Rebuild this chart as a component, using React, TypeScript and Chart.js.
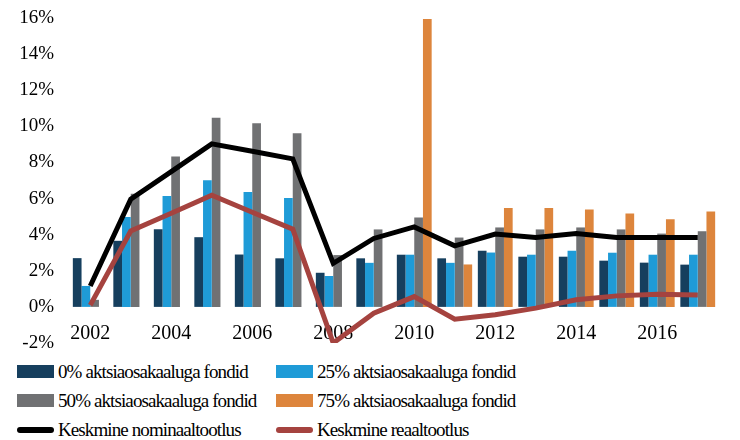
import React, { useEffect, useRef } from "react";
import { Chart, registerables } from "chart.js";

Chart.register(...registerables);

const years = ["2002","2003","2004","2005","2006","2007","2008","2009","2010","2011","2012","2013","2014","2015","2016","2017"];
const fund0 = [2.7, 3.66, 4.3, 3.86, 2.9, 2.69, 1.89, 2.69, 2.89, 2.69, 3.11, 2.78, 2.78, 2.56, 2.45, 2.34];
const fund25 = [1.16, 4.98, 6.14, 7.02, 6.36, 6.03, 1.71, 2.44, 2.89, 2.44, 3.01, 2.89, 3.11, 3.0, 2.89, 2.89];
const fund50 = [0.39, 6.27, 8.33, 10.48, 10.17, 9.62, 2.87, 4.29, 4.95, 3.84, 4.4, 4.29, 4.4, 4.29, 4.06, 4.19];
const fund75 = [null, null, null, null, null, null, null, null, 15.94, 2.35, 5.48, 5.48, 5.39, 5.17, 4.86, 5.28];
const nominal = [1.16, 5.96, 7.49, 9.03, 8.62, 8.2, 2.41, 3.79, 4.43, 3.38, 4.03, 3.84, 4.06, 3.84, 3.84, 3.84];
const real = [0.1, 4.2, 5.19, 6.18, 5.24, 4.3, -2.0, -0.35, 0.57, -0.68, -0.44, -0.07, 0.39, 0.61, 0.7, 0.66];

const labels = {
  f0: "0% aktsiaosakaaluga fondid",
  f25: "25% aktsiaosakaaluga fondid",
  f50: "50% aktsiaosakaaluga fondid",
  f75: "75% aktsiaosakaaluga fondid",
  nom: "Keskmine nominaaltootlus",
  real: "Keskmine reaaltootlus",
};

const colors = {
  f0: "#163F5E",
  f25: "#1F9BD7",
  f50: "#707173",
  f75: "#DD853C",
  nom: "#000000",
  real: "#A5433F",
};

const FONT = "'Liberation Serif', serif";

const legendItems = [
  { text: labels.f0, color: colors.f0, kind: "box" },
  { text: labels.f25, color: colors.f25, kind: "box" },
  { text: labels.f50, color: colors.f50, kind: "box" },
  { text: labels.f75, color: colors.f75, kind: "box" },
  { text: labels.nom, color: colors.nom, kind: "line" },
  { text: labels.real, color: colors.real, kind: "line" },
];

export default function App() {
  const ref = useRef<HTMLCanvasElement>(null);
  useEffect(() => {
    if (!ref.current) return;
    const barCommon = { categoryPercentage: 0.86, barPercentage: 1.0, borderWidth: 0, order: 2 };
    const chart = new Chart(ref.current, {
      type: "bar",
      data: {
        labels: years,
        datasets: [
          { type: "line", label: labels.nom, data: nominal, borderColor: colors.nom, backgroundColor: colors.nom, borderWidth: 5, pointRadius: 0, tension: 0, order: 0 } as any,
          { type: "line", label: labels.real, data: real, borderColor: colors.real, backgroundColor: colors.real, borderWidth: 5, pointRadius: 0, tension: 0, order: 1 } as any,
          { label: labels.f0, data: fund0, backgroundColor: colors.f0, ...barCommon },
          { label: labels.f25, data: fund25, backgroundColor: colors.f25, ...barCommon },
          { label: labels.f50, data: fund50, backgroundColor: colors.f50, ...barCommon },
          { label: labels.f75, data: fund75, backgroundColor: colors.f75, ...barCommon },
        ],
      },
      options: {
        animation: false,
        responsive: false,
        devicePixelRatio: 1,
        layout: { padding: { top: 18, right: 22, bottom: 13, left: 0 } },
        plugins: { legend: { display: false }, tooltip: { enabled: false } },
        scales: {
          x: {
            position: { y: 0 } as any,
            grid: { display: false, drawTicks: false },
            border: { display: false },
            ticks: {
              autoSkip: false,
              maxRotation: 0,
              padding: 15,
              color: "#000",
              font: { family: FONT, size: 20 },
              callback: (_v: any, i: number) => (i % 2 === 0 ? years[i] : ""),
            },
            afterFit: (s: any) => { s.height = 0; s.paddingLeft = 0; s.paddingRight = 0; s.paddingTop = 0; s.paddingBottom = 0; },
          },
          y: {
            min: -2,
            max: 16,
            grid: { display: false, drawTicks: false },
            border: { display: false },
            ticks: {
              stepSize: 2,
              padding: 16,
              color: "#000",
              font: { family: FONT, size: 19 },
              callback: (v: any) => v + "%",
            },
            afterFit: (s: any) => { s.width = 70; s.paddingTop = 0; s.paddingBottom = 0; s.paddingLeft = 0; s.paddingRight = 0; },
          },
        },
      },
    });
    return () => chart.destroy();
  }, []);

  const rowY = [371.5, 400.5, 430];
  return (
    <div style={{ position: "absolute", left: 0, top: 0, width: 740, height: 440, background: "#fff", fontFamily: FONT }}>
      <canvas ref={ref} width={740} height={356} style={{ position: "absolute", left: 0, top: 0, width: 740, height: 356 }} />
      {legendItems.map((it, i) => {
        const col = i % 2;
        const row = Math.floor(i / 2);
        const bx = col === 0 ? 17 : 276;
        const tx = col === 0 ? 58 : 317;
        const cy = rowY[row];
        return (
          <React.Fragment key={i}>
            {it.kind === "box" ? (
              <div style={{ position: "absolute", left: bx, top: cy - 6.5, width: 37, height: 13, background: it.color }} />
            ) : (
              <div style={{ position: "absolute", left: bx, top: cy - 3, width: 37, height: 6, borderRadius: 3, background: it.color }} />
            )}
            <div style={{ position: "absolute", left: tx, top: cy - 12, height: 24, lineHeight: "24px", fontSize: 19, letterSpacing: "-0.9px", color: "#000", whiteSpace: "nowrap" }}>
              {it.text}
            </div>
          </React.Fragment>
        );
      })}
    </div>
  );
}
